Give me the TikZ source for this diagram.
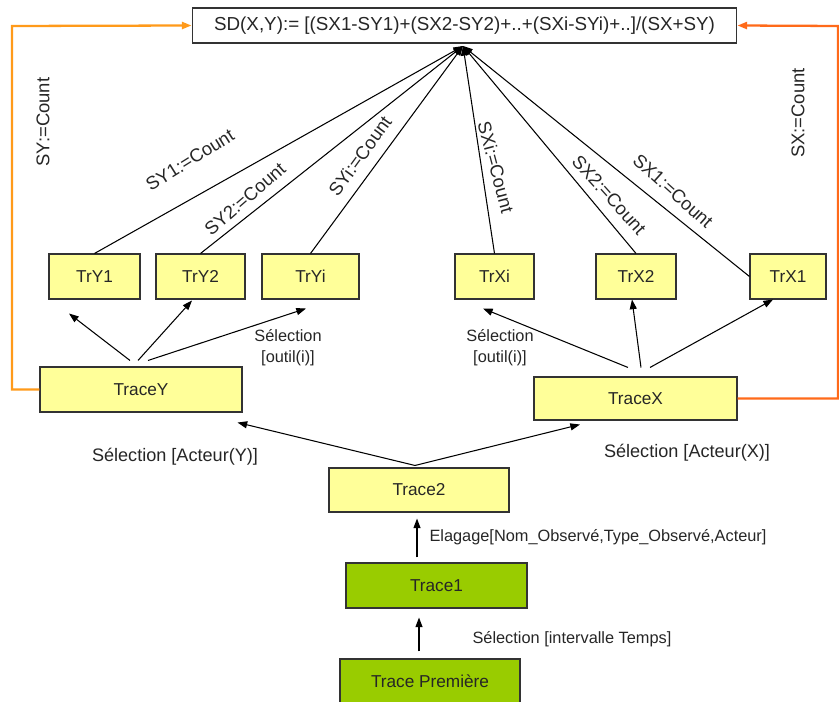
\documentclass[tikz,border=0pt]{standalone}
\usepackage{fontspec}
\setmainfont{Liberation Sans}
\usetikzlibrary{arrows.meta,calc}
\definecolor{jaune}{HTML}{FFFF99}
\definecolor{vert}{HTML}{99CC00}
\definecolor{orangeY}{HTML}{FF9A1A}
\definecolor{orangeX}{HTML}{FF6A1A}
\tikzset{>/.tip={Triangle[length=5.5pt,width=4pt]},
  txt/.style={font=\fontsize{9.3}{12}\selectfont, text=black!85},
  cnt/.style={txt, font=\fontsize{10.5}{12}\selectfont},
  trbox/.style={txt, font=\fontsize{9.8}{12}\selectfont, draw=black!80, line width=0.6pt, fill=jaune, minimum height=0.9cm},
  vbox/.style={trbox, fill=vert}}

\begin{document}
\begin{tikzpicture}[x=0.02cm, y=-0.02cm, line width=0.6pt]
\useasboundingbox (0,0) rectangle (839,702);
\node[draw=black!80, fill=white, txt, font=\fontsize{10.7}{12}\selectfont, minimum width=10.9cm, minimum height=0.7cm] (sd) at (464.5,25.5) {SD(X,Y):= [(SX1-SY1)+(SX2-SY2)+..+(SXi-SYi)+..]/(SX+SY)};
\coordinate (fan) at (463,46);

\node[trbox, minimum width=1.82cm] (try1) at (94.5,276.5) {TrY1};
\node[trbox, minimum width=1.78cm] (try2) at (200.5,276.5) {TrY2};
\node[trbox, minimum width=1.94cm] (tryi) at (310.5,276.5) {TrYi};
\node[trbox, minimum width=1.58cm] (trxi) at (494.5,276.5) {TrXi};
\node[trbox, minimum width=1.6cm] (trx2) at (636,276.5) {TrX2};
\node[trbox, minimum width=1.52cm] (trx1) at (788,276.5) {TrX1};

\node[trbox, minimum width=4.04cm] (tracey) at (141,389.5) {TraceY};
\node[trbox, minimum width=4.06cm, minimum height=0.86cm] (tracex) at (635.5,398.5) {TraceX};
\node[trbox, minimum width=3.6cm, minimum height=0.88cm] (trace2) at (419,490) {Trace2};
\node[vbox, minimum width=3.62cm] (trace1) at (436.5,585.5) {Trace1};
\node[vbox, minimum width=3.6cm] (tracep) at (430,681.5) {Trace Première};

\coordinate (lc) at (12,26);
\coordinate (rc) at (838,26);

% labels
\node[cnt, rotate=90] (sy) at (43,122) {SY:=Count};
\node[cnt, rotate=90] (sx) at (798,113) {SX:=Count};
\node[cnt, rotate=32] (sy1) at (190,160) {SY1:=Count};
\node[cnt, rotate=41] (sy2) at (245,199) {SY2:=Count};
\node[cnt, rotate=54] (syi) at (360,156) {SYi:=Count};
\node[cnt, rotate=-75] (sxi) at (496,167) {SXi:=Count};
\node[cnt, rotate=-48] (sx2) at (609,195) {SX2:=Count};
\node[cnt, rotate=-42] (sx1) at (673,191) {SX1:=Count};
\node[txt, align=center] (sely) at (288,348) {Sélection\\{}[outil(i)]};
\node[txt, align=center] (selx) at (500,348) {Sélection\\{}[outil(i)]};
\node[txt, font=\fontsize{10.3}{12}\selectfont] (acty) at (175,457) {Sélection [Acteur(Y)]};
\node[txt, font=\fontsize{10.3}{12}\selectfont] (actx) at (687,453) {Sélection [Acteur(X)]};
\node[txt, anchor=west, inner sep=0pt] (elag) at (429,537) {Elagage[Nom\_Observé,Type\_Observé,Acteur]};
\node[txt, anchor=west, inner sep=0pt] (temps) at (472,639) {Sélection [intervalle Temps]};

% vers SD
\path[->] (try1.north) edge (fan);
\path[->] (try2.north) edge (fan);
\path[->] (tryi.north) edge (fan);
\path[->] (trxi.north) edge (fan);
\path[->] (trx2.north) edge (fan);
\path[->] (trx1.west) edge (fan);

\draw[->, orangeY, line width=1.3pt] (tracey.west) -| (lc) -- (sd.west);
\draw[->, orangeX, line width=1.3pt] (tracex.east) -| (rc) -- (sd.east);

% selections
\path[->] ($(tracey.north)+(-11,-6)$) edge ($(try1.south)+(-25.5,14)$);
\path[->] ($(tracey.north)+(-3,-6)$) edge ($(try2.south)+(-8.5,1)$);
\path[->] ($(tracey.north)+(7,-6)$) edge ($(tryi.south)+(-4.5,9)$);
\path[->] ($(tracex.north)+(-7.5,-9)$) edge ($(trxi.south)+(-11.5,9)$);
\path[->] ($(tracex.north)+(5.5,-9)$) edge ($(trx2.south)+(-4,0)$);
\path[->] ($(tracex.north)+(14.5,-9)$) edge ($(trx1.south)+(-15,0)$);

\path[->] ($(trace2.north)+(-4,-2)$) edge ($(tracey.south east)+(-5,10)$);
\path[->] ($(trace2.north)+(-4,-2)$) edge ($(tracex.south)+(-55.5,4)$);
\path[->] ($(trace1.north)+(-19.5,-5)$) edge ($(trace2.south)+(-2,6)$);
\path[->] ($(tracep.north)+(-11,-7)$) edge ($(trace1.south)+(-17.5,9)$);
\end{tikzpicture}
\end{document}
